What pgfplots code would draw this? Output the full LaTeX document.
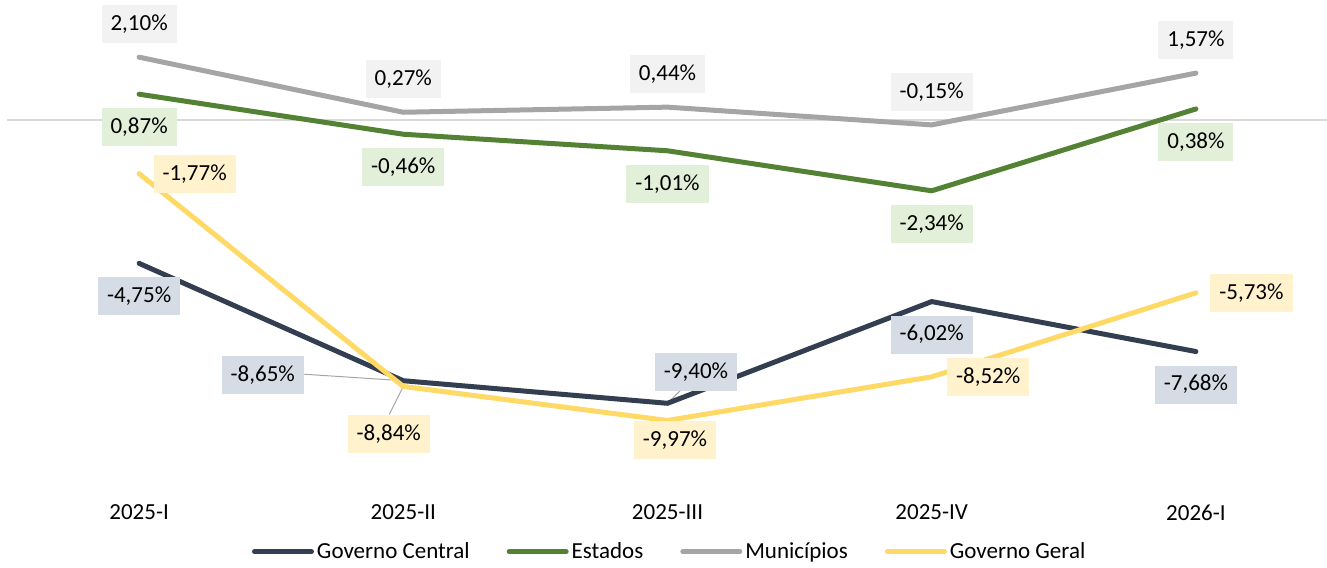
\documentclass[border=0pt]{standalone}
\usepackage{pgfplots}
\usepackage{pgfplotstable}
\pgfplotsset{compat=1.18}
\usepackage{fontspec}
\setmainfont{Carlito}

\definecolor{central}{HTML}{333F50}
\definecolor{centralbg}{HTML}{D6DCE5}
\definecolor{estados}{HTML}{548235}
\definecolor{estadosbg}{HTML}{E2F0D9}
\definecolor{municipios}{HTML}{A5A5A5}
\definecolor{municipiosbg}{HTML}{F2F2F2}
\definecolor{geral}{HTML}{FFD966}
\definecolor{geralbg}{HTML}{FFF2CC}
\definecolor{zeroline}{HTML}{D9D9D9}
\definecolor{leader}{HTML}{A6A6A6}

% x, value, label offset (pt)
\pgfplotstableread{
x y dx dy
0 -4.75 0 -16.5
1 -8.65 -70.25 2.75
2 -9.40 14.25 15.75
3 -6.02 0 -16.5
4 -7.68 0 -16.5
}\central
\pgfplotstableread{
x y dx dy
0 0.87 0 -16.5
1 -0.46 0 -16.5
2 -1.01 0 -16.5
3 -2.34 0 -16.5
4 0.38 0 -16.5
}\estados
\pgfplotstableread{
x y dx dy
0 2.10 0 16.5
1 0.27 0 16.5
2 0.44 0 16.5
3 -0.15 0 16.5
4 1.57 0 16.5
}\municipios
\pgfplotstableread{
x y dx dy
0 -1.77 27.75 0
1 -8.84 -7.25 -24
2 -9.97 3.75 -10
3 -8.52 28.25 0
4 -5.73 27.75 0
}\geral

\begin{document}
\begin{tikzpicture}[font=\fontsize{11.5}{14}\selectfont]
\path[use as bounding box] (-3.5pt,-35.5pt) rectangle (660pt,248.3pt);
\begin{axis}[
    at={(0,0)}, anchor=south west,
    scale only axis,
    width=660.5pt, height=248.3pt,
    xmin=-0.5, xmax=4.5,
    ymin=-12.5, ymax=4,
    clip=false,
    axis line style={draw=none},
    major tick length=0pt,
    xtick={0,1,2,3,4},
    xticklabels={2025-I,2025-II,2025-III,2025-IV,2026-I},
    xticklabel style={anchor=north, inner sep=0pt, yshift=-4pt},
    ytick={0}, yticklabels={},
    ymajorgrids,
    grid style={color=zeroline, line width=1pt},
    every axis plot/.append style={line width=2.5pt, line cap=round, line join=round},
    legend image code/.code={\draw[#1] (0pt,0pt) -- (28.5pt,0pt);},
    legend columns=4,
    legend style={draw=none, fill=none, at={(0.502,-0.111)}, anchor=center,
        nodes={inner xsep=1.5pt},
        /tikz/every even column/.append style={column sep=17pt}},
    /pgf/number format/assume math mode=true,
    nodes near coords={\pgfmathprintnumber[fixed, fixed zerofill, precision=2, use comma]{\pgfplotspointmeta}\%},
    point meta=y,
    visualization depends on={\thisrow{dx} \as \dx},
    visualization depends on={\thisrow{dy} \as \dy},
    nodes near coords style={anchor=center, xshift=\dx pt, yshift=\dy pt,
        inner xsep=4.5pt, inner ysep=0pt, minimum height=19pt, text=black},
]
% leader lines
\draw[leader, line width=0.5pt] (axis cs:1,-8.65) -- ++(-49.5pt,3.25pt);
\draw[leader, line width=0.5pt] (axis cs:1,-8.84) -- ++(-7pt,-14pt);
\draw[leader, line width=0.5pt] (axis cs:2,-9.40) -- ++(6.5pt,6.5pt);

\addplot[central, nodes near coords style={fill=centralbg}] table[x=x, y=y] {\central};
\addlegendentry{Governo Central}
\addplot[estados, nodes near coords style={fill=estadosbg}] table[x=x, y=y] {\estados};
\addlegendentry{Estados}
\addplot[municipios, nodes near coords style={fill=municipiosbg}] table[x=x, y=y] {\municipios};
\addlegendentry{Municípios}
\addplot[geral, nodes near coords style={fill=geralbg}] table[x=x, y=y] {\geral};
\addlegendentry{Governo Geral}
\end{axis}
\end{tikzpicture}
\end{document}
